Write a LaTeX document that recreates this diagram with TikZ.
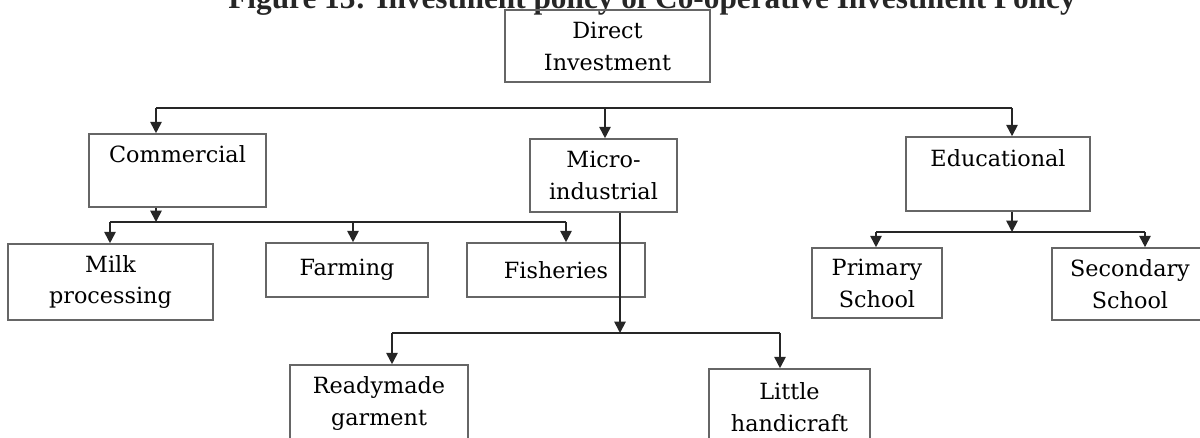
\documentclass[tikz,border=0pt]{standalone}
\usepackage{fontspec}
\setmainfont{DejaVu Serif}
\newfontfamily\titlefont{Liberation Serif}
\usetikzlibrary{arrows.meta}
\tikzstyle{box} = [rectangle, 
draw=black!60, 
line width=0.9pt, 
align=center, 
inner sep=0pt, 
font=\fontsize{12.7}{18.2}\selectfont]
\tikzstyle{line} = [line width=1pt, draw=black!85]
\tikzstyle{arrow} = [line,->,>={Triangle[length=6.5pt,width=6.5pt]}]

\begin{document}
\begin{tikzpicture}
		\useasboundingbox (0,0) rectangle (24,-8.74);
		
		\node (title) [anchor=base, text=black!85, font=\titlefont\bfseries\fontsize{17.8}{21}\selectfont] at (13.04,-0.16) {Figure 13: Investment policy of Co-operative Investment Policy};
		
		\node (direct) [box, minimum width=4.10cm, minimum height=1.44cm] at (12.15,-0.92) {Direct\\Investment};
		
		\node (comm) [box, minimum width=3.54cm, minimum height=1.46cm] at (3.55,-3.41) {Commercial\\\mbox{}};
		\node (micro) [box, minimum width=2.94cm, minimum height=1.46cm] at (12.07,-3.51) {Micro-\\industrial};
		\node (edu) [box, minimum width=3.68cm, minimum height=1.48cm] at (19.96,-3.48) {Educational\\\mbox{}};
		
		\node (milk) [box, minimum width=4.10cm, minimum height=1.52cm] at (2.21,-5.64) {Milk\\processing};
		\node (farm) [box, minimum width=3.24cm, minimum height=1.08cm] at (6.94,-5.40) {Farming};
		\node (fish) [box, minimum width=3.56cm, minimum height=1.08cm] at (11.12,-5.40) {Fisheries};
		
		\node (primary) [box, minimum width=2.60cm, minimum height=1.40cm] at (17.54,-5.66) {Primary\\School};
		\node (second) [box, minimum width=3.12cm, minimum height=1.44cm] at (22.60,-5.68) {Secondary\\School};
		
		\node (ready) [box, minimum width=3.56cm, minimum height=1.52cm] at (7.58,-8.06) {Readymade\\garment};
		\node (little) [box, minimum width=3.22cm, minimum height=1.52cm] at (15.79,-8.14) {Little\\handicraft};
		
		% top level
		\coordinate (tl) at (3.12,-2.16);
		\coordinate (tm) at (12.10,-2.16);
		\coordinate (tr) at (20.24,-2.16);
		\draw [line] (tl) -- (tr);
		\draw [arrow] (tl) -- (tl |- comm.north);
		\draw [arrow] (tm) -- (tm |- micro.north);
		\draw [arrow] (tr) -- (tr |- edu.north);
		
		% commercial
		\coordinate (cj) at (3.12,-4.44);
		\coordinate (cl) at (2.20,-4.44);
		\coordinate (cm) at (7.06,-4.44);
		\coordinate (cr) at (11.32,-4.44);
		\draw [arrow] (comm.south -| cj) -- (cj);
		\draw [line] (cl) -- (cr);
		\draw [arrow] (cl) -- (cl |- milk.north);
		\draw [arrow] (cm) -- (cm |- farm.north);
		\draw [arrow] (cr) -- (cr |- fish.north);
		
		% micro-industrial
		\coordinate (mj) at (12.40,-6.66);
		\coordinate (ml) at (7.84,-6.66);
		\coordinate (mr) at (15.60,-6.66);
		\draw [arrow] (micro.south -| mj) -- (mj);
		\draw [line] (ml) -- (mr);
		\draw [arrow] (ml) -- (ml |- ready.north);
		\draw [arrow] (mr) -- (mr |- little.north);
		
		% educational
		\coordinate (ej) at (20.24,-4.64);
		\coordinate (el) at (17.52,-4.64);
		\coordinate (er) at (22.90,-4.64);
		\draw [arrow] (edu.south -| ej) -- (ej);
		\draw [line] (el) -- (er);
		\draw [arrow] (el) -- (el |- primary.north);
		\draw [arrow] (er) -- (er |- second.north);
		
	\end{tikzpicture}
\end{document}
